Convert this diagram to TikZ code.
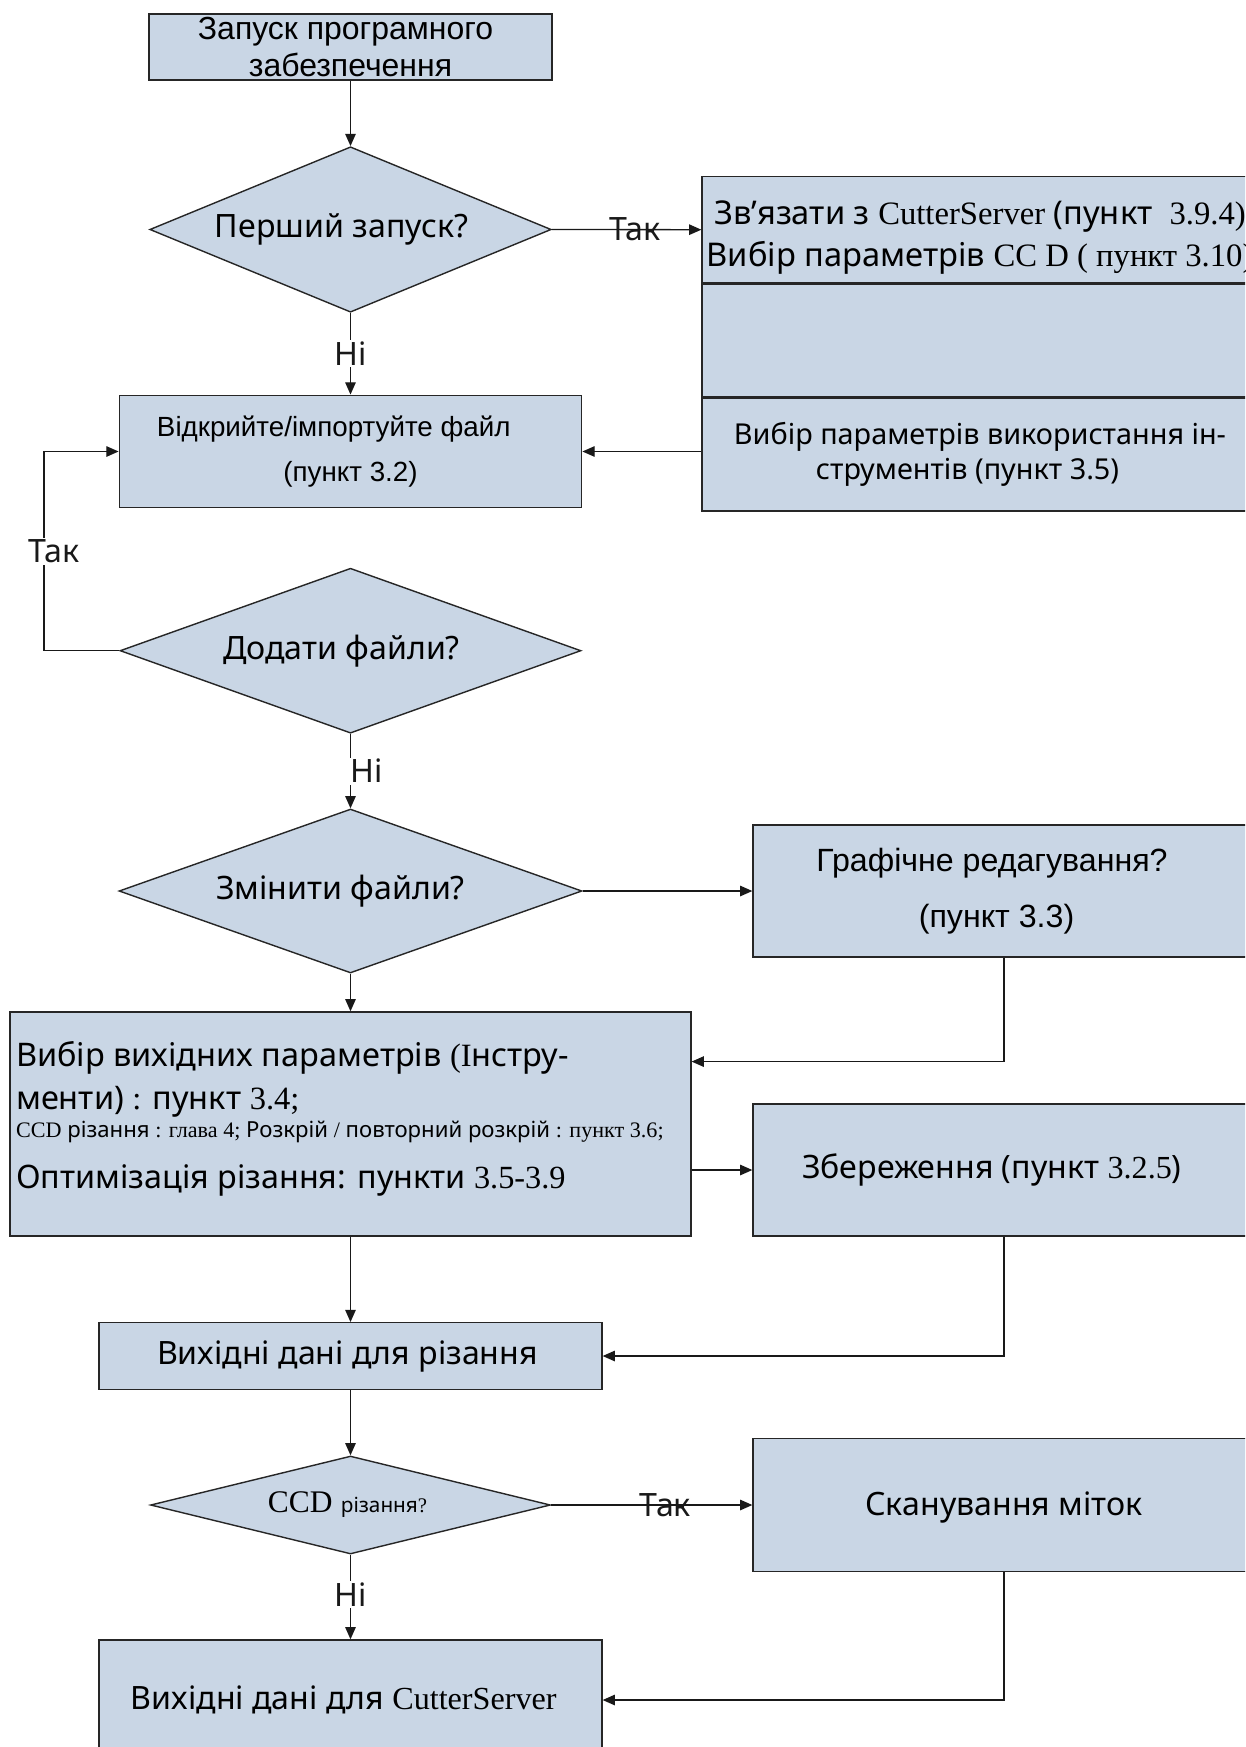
\documentclass[tikz,border=0pt]{standalone}
\usepackage{fontspec}
\setmainfont{Noto Sans}
\newfontfamily\arialf{Liberation Sans}
\newfontfamily\timesf{Liberation Serif}
\usetikzlibrary{positioning,shapes.geometric,arrows.meta,calc}
\definecolor{boxblue}{RGB}{201,214,229}

\begin{document}
\begin{tikzpicture}[x=0.02cm, y=-0.02cm, font=\fontsize{18.3pt}{22pt}\selectfont,
                    c/.style={line width=0.75pt, black!90},
                    arr/.style={c, -{Triangle[length=7pt, width=6pt]}},
                    blk/.style={draw=black!85, line width=0.8pt, fill=boxblue, inner sep=0pt, align=center},
                    dec/.style={blk, diamond, aspect=2.5},
                    lbl/.style={fill=white, inner sep=1pt},
                    tag/.style={inner sep=1pt}]
  \useasboundingbox (0,0) rectangle (1245,1747);
  \clip (0,0) rectangle (1245,1747);
  % left column
  \node[blk, minimum width=8.06cm, minimum height=1.32cm,
        font=\arialf\fontsize{18.2pt}{20.5pt}\selectfont] (start) at (350.5,47) {Запуск програмного\hspace*{0.2cm}\\забезпечення};
  \node[dec, minimum width=8.03cm, minimum height=3.31cm] (first) at (350.5,229.5) {Перший запуск?\hspace*{0.36cm}};
  \node[blk, minimum width=9.25cm, minimum height=2.25cm,
        font=\arialf\fontsize{15.8pt}{26pt}\selectfont] (open) at (350.5,451.5) {Відкрийте/імпортуйте файл\hspace*{0.67cm}\\(пункт 3.2)};
  \node[dec, minimum width=9.22cm, minimum height=3.3cm] (add) at (350.5,650.7) {Додати файли?\hspace*{0.36cm}};
  \node[dec, minimum width=9.26cm, minimum height=3.28cm] (edit) at (350.5,891) {Змінити файли?\hspace*{0.4cm}};
  \node[blk, minimum width=13.62cm, minimum height=4.48cm] (outpar) at (350.5,1124) {};
    \node[anchor=west, tag, font=\fontsize{18.5pt}{22pt}\selectfont] (op1) at (14,1058) {Вибір вихідних параметрів {\timesf (І}нстру-};
    \node[anchor=west, tag, font=\fontsize{18.5pt}{22pt}\selectfont] (op2) at (14,1101.7) {менти) {\timesf :} пункт {\timesf 3.4;}};
    \node[anchor=west, tag, font=\fontsize{12.6pt}{14pt}\selectfont] (op3) at (14,1131.7) {{\timesf CCD} різання {\timesf : глава 4;} Розкрій {\timesf /} повторний розкрій {\timesf : пункт 3.6;}};
    \node[anchor=west, tag, font=\fontsize{18.4pt}{22pt}\selectfont] (op4) at (14,1180) {Оптимізація різання: пункти {\timesf 3.5-3.9}};
  \node[blk, minimum width=10.06cm, minimum height=1.33cm] (cutout) at (350.5,1356) {Вихідні дані для різання\hspace*{0.12cm}};
  \node[dec, aspect=4, minimum width=8cm, minimum height=1.96cm] (ccd) at (350.5,1505) {{\timesf\fontsize{17.9pt}{20pt}\selectfont CCD} {\fontsize{11.8pt}{14pt}\selectfont різання{\timesf ?}}\hspace*{0.12cm}};
  \node[blk, minimum width=10.06cm, minimum height=2.4cm] (server) at (350.5,1700) {Вихідні дані для {\timesf CutterServer}\hspace*{0.27cm}};
  % right column
  \node[blk, minimum width=11.12cm, minimum height=2.12cm,
        font=\fontsize{18.6pt}{24pt}\selectfont] (link) at (980,229.7) {\rule{0pt}{22pt}Зв’язати з {\timesf CutterServer} (пункт\ \ {\timesf 3.9.4)}\\Вибір параметрів {\timesf CC D ( пункт 3.10)}};
  \node[blk, minimum width=11.12cm, minimum height=2.26cm, below=0pt of link] (blank) {};
  \node[blk, minimum width=11.12cm, minimum height=2.25cm, below=0pt of blank,
        font=\fontsize{16.4pt}{19.8pt}\selectfont] (tools) {Вибір параметрів використання ін-\\струментів (пункт 3.5)\hspace*{0.5cm}};
  \node[blk, minimum width=10.04cm, minimum height=2.64cm,
        font=\arialf\fontsize{18.3pt}{31.7pt}\selectfont] (graph) at (1004,891) {Графічне редагування?\hspace*{0.48cm}\\(пункт 3.3)\hspace*{0.3cm}};
  \node[blk, minimum width=10.04cm, minimum height=2.64cm] (save) at (1004,1170) {Збереження (пункт {\timesf 3.2.5})\hspace*{0.49cm}};
  \node[blk, minimum width=10.04cm, minimum height=2.67cm] (scan) at (1004,1505) {\rule{0pt}{16pt}Сканування міток};
  % connectors
  \draw[arr] (start) -- (first);
  \draw[arr] (first.east) -- node[tag, pos=0.556] (yes1) {Так} (link.west);
  \draw[arr] (first) -- node[lbl] (no1) {Ні} (open);
  \draw[arr] (tools.west |- open.east) -- (open.east);
  \coordinate (loop) at (44,650.7);
  \draw[arr] (add.west) -- (loop) |- node[lbl, pos=0.25, xshift=0.2cm] (yes2) {Так} (open.west);
  \draw[arr] (add) -- node[lbl, xshift=0.32cm] (no2) {Ні} (edit);
  \draw[arr] (edit.east) -- (graph.west);
  \draw[arr] (edit) -- (outpar);
  \draw[arr] (graph.south) |- ($(outpar.north east)!0.223!(outpar.south east)$);
  \draw[arr] (outpar.east |- save.west) -- (save.west);
  \draw[arr] (outpar) -- (cutout);
  \draw[arr] (save.south) |- (cutout.east);
  \draw[arr] (cutout) -- (ccd);
  \draw[arr] (ccd.east) -- node[tag, pos=0.567] (yes3) {Так} (scan.west);
  \draw[arr] (ccd) -- node[lbl, pos=0.47] (no3) {Ні} (server);
  \draw[arr] (scan.south) |- (server.east);
\end{tikzpicture}
\end{document}
